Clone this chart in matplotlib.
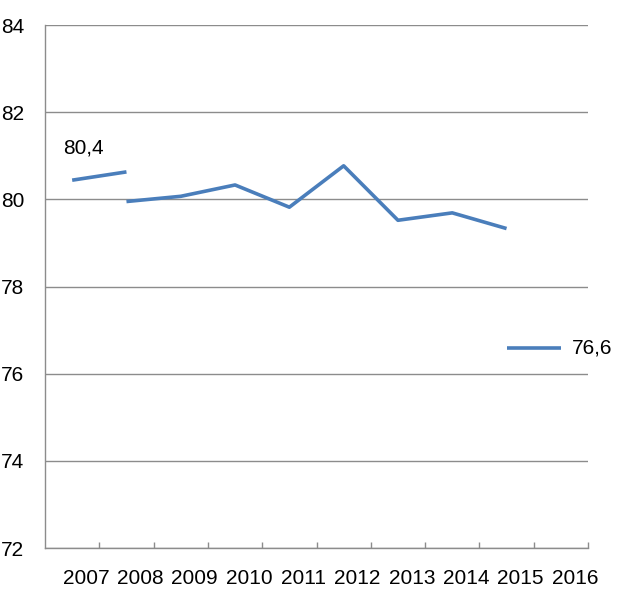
import matplotlib.pyplot as plt
from matplotlib.transforms import ScaledTranslation

years = ['2007', '2008', '2009', '2010', '2011', '2012', '2013', '2014', '2015', '2016']

# three separate pieces of the same series (breaks in the source)
seg_a_years = ['2007', '2008']
seg_a_vals = [80.44, 80.63]
seg_b_years = ['2008', '2009', '2010', '2011', '2012', '2013', '2014', '2015']
seg_b_vals = [79.95, 80.07, 80.33, 79.82, 80.77, 79.52, 79.69, 79.33]
seg_c_years = ['2015', '2016']
seg_c_vals = [76.6, 76.6]

label_first = '80,4'
label_last = '76,6'

plt.rcParams['font.family'] = ['Liberation Sans', 'DejaVu Sans']

blue = '#4a7ebb'
grey = '#8c8c8c'
fs = 15

fig = plt.figure(figsize=(6.2, 6.03), dpi=100)
ax = fig.add_axes([0.0726, 0.0912, 0.8758, 0.8673])

pos = {y: i for i, y in enumerate(years)}
for ys, vs in [(seg_a_years, seg_a_vals), (seg_b_years, seg_b_vals), (seg_c_years, seg_c_vals)]:
    ax.plot([pos[y] for y in ys], vs, color=blue, lw=2.6, solid_capstyle='butt', zorder=3)

ax.text(pos['2007'] + 0.2, 80.95, label_first, fontsize=fs, ha='center', va='bottom')
ax.text(pos['2016'] + 0.2, 76.6, label_last, fontsize=fs, ha='left', va='center')

ax.set_xlim(-0.5, len(years) - 0.5)
ax.set_ylim(72, 84)
ax.set_yticks(range(72, 85, 2))
ax.yaxis.grid(True, color=grey, lw=1)
ax.set_axisbelow(True)
ax.tick_params(axis='y', length=0, pad=15, labelsize=fs)

ax.set_xticks(range(len(years)))
ax.set_xticklabels(years)
ax.set_xticks([i + 0.5 for i in range(len(years))], minor=True)
ax.tick_params(axis='x', which='major', length=0, pad=15, labelsize=fs)
ax.tick_params(axis='x', which='minor', direction='in', length=4.3, color=grey, width=1)
for lbl in ax.get_xticklabels():
    lbl.set_transform(lbl.get_transform() + ScaledTranslation(0.14, 0, fig.dpi_scale_trans))

for side in ['top', 'right']:
    ax.spines[side].set_visible(False)
for side in ['left', 'bottom']:
    ax.spines[side].set_color(grey)
    ax.spines[side].set_linewidth(1)

fig.savefig('out.png', dpi=100)
